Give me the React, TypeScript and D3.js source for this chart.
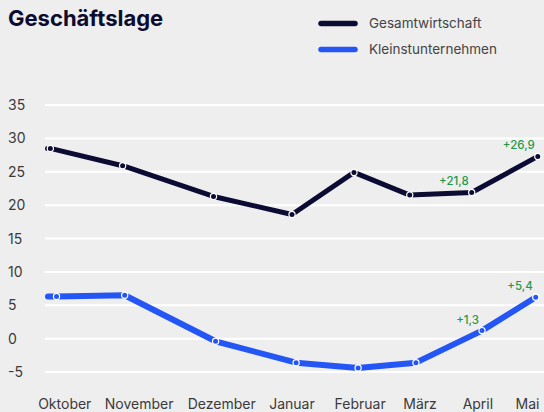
import React from "react";
import * as d3 from "d3";

// ---- data ----
const title = "Geschäftslage";
const seriesNames = ["Gesamtwirtschaft", "Kleinstunternehmen"];

const gesamtDates = ["2023-10-06", "2023-11-10", "2023-12-24", "2024-01-31", "2024-03-01", "2024-03-28", "2024-04-27", "2024-05-29"];
const gesamtValues = [28.5, 25.9, 21.3, 18.6, 24.9, 21.5, 21.9, 27.3];

const kleinDates = ["2023-10-09", "2023-11-11", "2023-12-25", "2024-02-02", "2024-03-03", "2024-03-31", "2024-05-02", "2024-05-28"];
const kleinValues = [6.3, 6.5, -0.4, -3.6, -4.4, -3.6, 1.2, 6.2];

const monthLabels = ["Oktober", "November", "Dezember", "Januar", "Februar", "März", "April", "Mai"];
const monthLabelDates = ["2023-10-13", "2023-11-18", "2023-12-28", "2024-01-31", "2024-03-04", "2024-04-02", "2024-04-30", "2024-05-24"];

const yTicks = [-5, 0, 5, 10, 15, 20, 25, 30, 35];

// annotations: [series index, point index, text]
const annotationSeries = [0, 0, 1, 1];
const annotationPoints = [6, 7, 6, 7];
const annotationTexts = ["+21,8", "+26,9", "+1,3", "+5,4"];

const colors = ["#0b0b33", "#2456f5"];
const FONT = "Inter, 'Noto Sans', sans-serif";

export default function App() {
  const W = 544;
  const H = 412;
  const plotLeft = 45;
  const parse = d3.timeParse("%Y-%m-%d");

  const x = d3
    .scaleTime()
    .domain([parse("2023-10-01")!, parse("2024-06-01")!])
    .range([40, 544]);
  const y = d3.scaleLinear().domain([-5, 35]).range([372, 105]);

  const series = [
    { dates: gesamtDates.map((d) => parse(d)!), values: gesamtValues, width: 5 },
    { dates: kleinDates.map((d) => parse(d)!), values: kleinValues, width: 6 },
  ];

  return (
    <svg
      width={W}
      height={H}
      style={{ position: "absolute", left: 0, top: 0, display: "block" }}
      fontFamily={FONT}
    >
      <rect width={W} height={H} fill="#eeeeee" />
      <text x={8} y={26} fontSize={22} fontWeight={700} fill="#0c0c2e">
        {title}
      </text>

      {seriesNames.map((name, i) => (
        <g key={name} transform={`translate(0, ${23.5 + i * 26})`}>
          <line x1={321} x2={355} y1={0} y2={0} stroke={colors[i]} strokeWidth={5.5} strokeLinecap="round" />
          <text x={369} y={0} dy="0.35em" fontSize={13.5} fill="#444">
            {name}
          </text>
        </g>
      ))}

      {yTicks.map((t) => (
        <g key={t}>
          <line x1={plotLeft} x2={W} y1={y(t)} y2={y(t)} stroke="#ffffff" strokeWidth={2} />
          <text x={8} y={y(t)} dy="0.36em" fontSize={14} fill="#3a3a3a">
            {t}
          </text>
        </g>
      ))}

      {monthLabels.map((m, i) => (
        <text key={m} x={x(parse(monthLabelDates[i])!)} y={409} textAnchor="middle" fontSize={14} fill="#3a3a3a">
          {m}
        </text>
      ))}

      {series.map((s, si) => {
        const pts: [number, number][] = s.dates.map((d, i) => [x(d), y(s.values[i])]);
        const full: [number, number][] = [[plotLeft + s.width / 2, pts[0][1]], ...pts];
        const path = d3.line()(full) || "";
        return (
          <g key={si}>
            <path d={path} fill="none" stroke={colors[si]} strokeWidth={s.width} strokeLinecap="round" strokeLinejoin="round" />
            {pts.map((p, i) => (
              <circle key={i} cx={p[0]} cy={p[1]} r={3.1} fill={colors[si]} stroke="#ffffff" strokeWidth={1.2} />
            ))}
          </g>
        );
      })}

      {annotationTexts.map((t, i) => {
        const s = series[annotationSeries[i]];
        const pi = annotationPoints[i];
        return (
          <text
            key={t}
            x={x(s.dates[pi]) - 3}
            y={y(s.values[pi]) - 7}
            textAnchor="end"
            fontSize={11.5}
            fontWeight={500}
            fill="#1e9a4c"
          >
            {t}
          </text>
        );
      })}
    </svg>
  );
}
